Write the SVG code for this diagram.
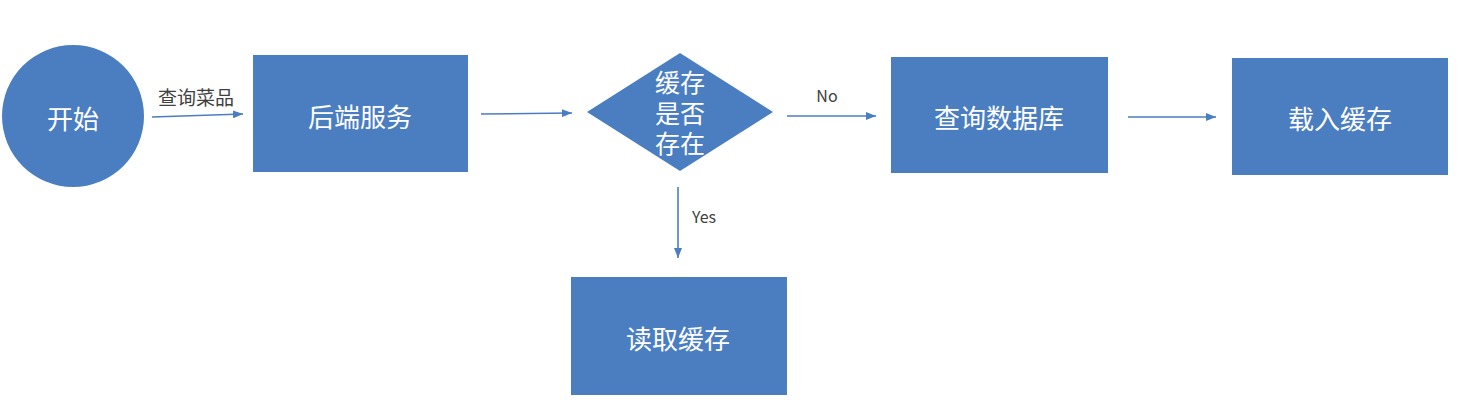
<svg xmlns="http://www.w3.org/2000/svg" width="1472" height="409" viewBox="0 0 1472 409">
<style>
.node{fill:#4a7ec1;}
.t{font-family:"Noto Sans CJK SC","Noto Sans",sans-serif;fill:#ffffff;font-size:26px;text-anchor:middle;dominant-baseline:central;}
.d{font-family:"Noto Sans CJK SC","Noto Sans",sans-serif;fill:#ffffff;font-size:25px;text-anchor:middle;}
.lbl{font-family:"Noto Sans CJK SC","Noto Sans",sans-serif;fill:#404040;font-size:16px;text-anchor:middle;dominant-baseline:central;}
.c{stroke:#4a7ec1;stroke-width:1.6;fill:none;marker-end:url(#ah);}
</style>
<defs>
<marker id="ah" markerWidth="10" markerHeight="8" refX="10" refY="4" orient="auto" markerUnits="userSpaceOnUse">
<path d="M0,0 L10,4 L0,8 z" fill="#4a7ec1"/>
</marker>
</defs>
<rect width="1472" height="409" fill="#ffffff"/>
<g id="connectors">
<line class="c" x1="152" y1="117" x2="243" y2="114"/>
<text class="lbl" x="196" y="96" style="font-size:19px">查询菜品</text>
<line class="c" x1="481" y1="114" x2="572" y2="113"/>
<line class="c" x1="787" y1="116" x2="876" y2="116"/>
<text class="lbl" x="827" y="95">No</text>
<line class="c" x1="1128" y1="117" x2="1216" y2="117"/>
<line class="c" x1="678" y1="187" x2="678" y2="258"/>
<text class="lbl" x="704" y="216">Yes</text>
</g>
<g id="start">
<circle class="node" cx="73" cy="116" r="71"/>
<text class="t" x="73" y="117">开始</text>
</g>
<g id="backend">
<rect class="node" x="253" y="55" width="215" height="117"/>
<text class="t" x="360" y="115">后端服务</text>
</g>
<g id="decision">
<polygon class="node" points="680,53 773,112 680,171 587,112"/>
<text class="d" x="680" y="92"><tspan x="680" y="92">缓存</tspan><tspan x="680" y="123">是否</tspan><tspan x="680" y="153">存在</tspan></text>
</g>
<g id="querydb">
<rect class="node" x="891" y="57" width="217" height="116"/>
<text class="t" x="999" y="116">查询数据库</text>
</g>
<g id="loadcache">
<rect class="node" x="1232" y="58" width="216" height="117"/>
<text class="t" x="1340" y="117">载入缓存</text>
</g>
<g id="readcache">
<rect class="node" x="571" y="277" width="216" height="118"/>
<text class="t" x="678" y="337">读取缓存</text>
</g>
</svg>
